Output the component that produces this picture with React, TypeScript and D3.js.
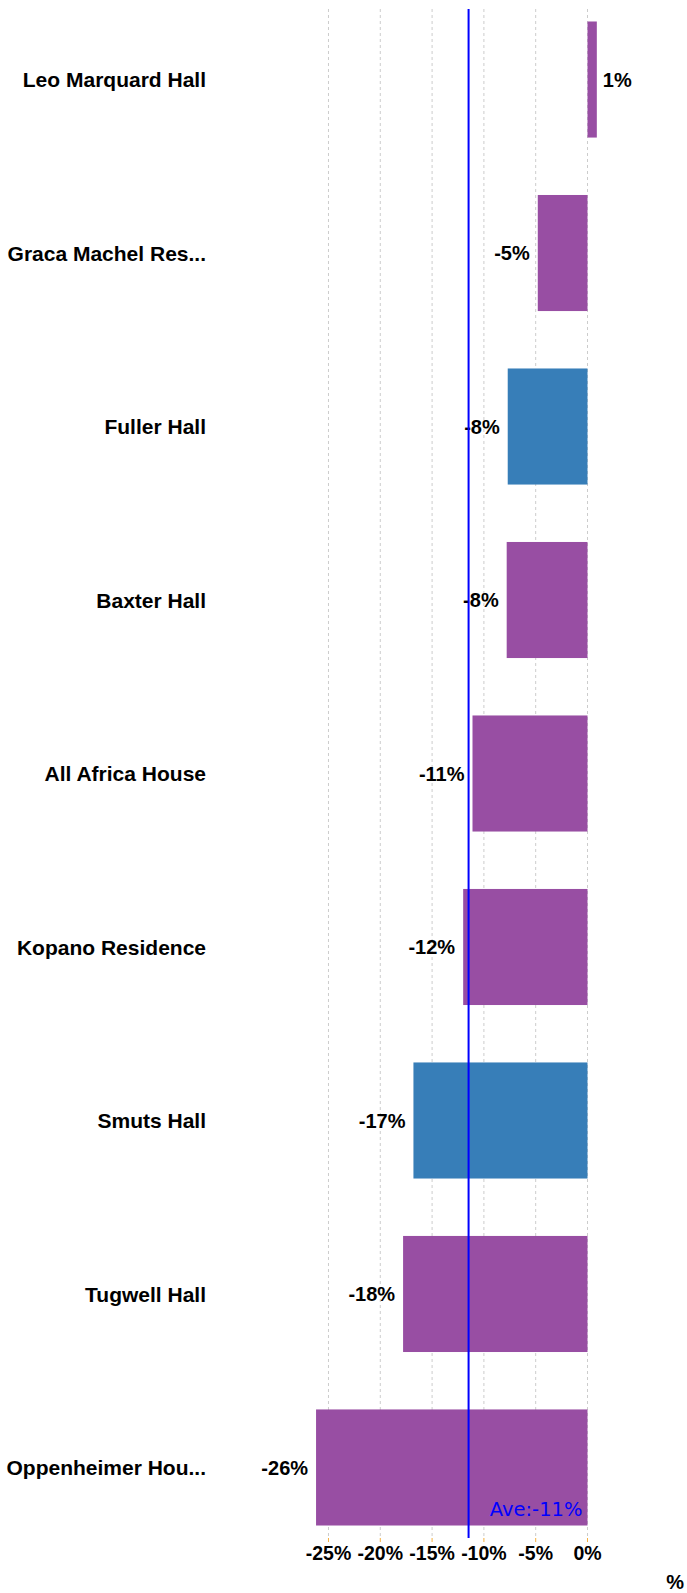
import React, { useEffect, useRef } from 'react';
import * as d3 from 'd3';

// Values (percent)
const halls = [
  'Leo Marquard Hall',
  'Graca Machel Res...',
  'Fuller Hall',
  'Baxter Hall',
  'All Africa House',
  'Kopano Residence',
  'Smuts Hall',
  'Tugwell Hall',
  'Oppenheimer Hou...'
];
const changes = [0.9, -4.8, -7.7, -7.8, -11.1, -12.0, -16.8, -17.8, -26.2];
const groups = ['b', 'b', 'a', 'b', 'b', 'b', 'a', 'b', 'b'];
const ticks = [-25, -20, -15, -10, -5, 0];

const WIDTH = 687;
const HEIGHT = 1593;

const App = () => {
  const ref = useRef<SVGSVGElement | null>(null);

  useEffect(() => {
    const svg = d3.select(ref.current);
    svg.selectAll('*').remove();

    const data = halls.map((name, i) => ({ name, value: changes[i], group: groups[i] }));
    const font = '"Liberation Sans", Arial, sans-serif';

    const x = d3.scaleLinear().domain([-28, 1.5]).range([297.4, 603.04]);
    const y = d3.scaleBand<string>()
      .domain(halls)
      .range([9, 1538])
      .paddingInner(0.331)
      .paddingOuter(0.072);

    const color = d3.scaleOrdinal<string, string>()
      .domain(['a', 'b'])
      .range(['#377eb8', '#984ea3']);

    const gridTop = 9;
    const gridBottom = 1538;

    // Grid lines
    svg.append('g')
      .selectAll('line')
      .data(ticks)
      .enter()
      .append('line')
      .attr('x1', d => x(d))
      .attr('x2', d => x(d))
      .attr('y1', gridTop)
      .attr('y2', gridBottom)
      .attr('stroke', '#cccccc')
      .attr('stroke-width', 1)
      .attr('stroke-dasharray', '3,3');

    // Small tick marks
    svg.append('g')
      .selectAll('line')
      .data(ticks)
      .enter()
      .append('line')
      .attr('x1', d => x(d))
      .attr('x2', d => x(d))
      .attr('y1', gridBottom)
      .attr('y2', gridBottom + 4)
      .attr('stroke', '#f5b041')
      .attr('stroke-width', 1);

    // Bars
    svg.append('g')
      .selectAll('rect')
      .data(data)
      .enter()
      .append('rect')
      .attr('x', d => x(Math.min(0, d.value)))
      .attr('width', d => Math.abs(x(d.value) - x(0)))
      .attr('y', d => y(d.name) as number)
      .attr('height', y.bandwidth())
      .attr('fill', d => color(d.group));

    // Value labels
    svg.append('g')
      .selectAll('text')
      .data(data)
      .enter()
      .append('text')
      .attr('x', d => (d.value < 0 ? x(d.value) - 8 : x(d.value) + 6))
      .attr('y', d => (y(d.name) as number) + y.bandwidth() / 2)
      .attr('dy', '0.36em')
      .attr('text-anchor', d => (d.value < 0 ? 'end' : 'start'))
      .attr('font-family', font)
      .attr('font-weight', 'bold')
      .attr('font-size', 20)
      .attr('fill', '#000')
      .text(d => `${Math.round(d.value)}%`);

    // Category labels
    svg.append('g')
      .selectAll('text')
      .data(data)
      .enter()
      .append('text')
      .attr('x', 206)
      .attr('y', d => (y(d.name) as number) + y.bandwidth() / 2)
      .attr('dy', '0.36em')
      .attr('text-anchor', 'end')
      .attr('font-family', font)
      .attr('font-weight', 'bold')
      .attr('font-size', 21)
      .attr('fill', '#000')
      .text(d => d.name);

    // Tick labels
    svg.append('g')
      .selectAll('text')
      .data(ticks)
      .enter()
      .append('text')
      .attr('x', d => x(d))
      .attr('y', 1560)
      .attr('text-anchor', 'middle')
      .attr('font-family', font)
      .attr('font-weight', 'bold')
      .attr('font-size', 19.5)
      .attr('fill', '#000')
      .text(d => `${d}%`);

    // Axis title
    svg.append('text')
      .attr('x', 684)
      .attr('y', 1589)
      .attr('text-anchor', 'end')
      .attr('font-family', font)
      .attr('font-weight', 'bold')
      .attr('font-size', 20)
      .attr('fill', '#000')
      .text('%');

    // Average line
    const avg = d3.mean(changes) as number;
    svg.append('line')
      .attr('x1', x(avg))
      .attr('x2', x(avg))
      .attr('y1', gridTop)
      .attr('y2', gridBottom)
      .attr('stroke', '#0000ff')
      .attr('stroke-width', 2);

    svg.append('text')
      .attr('x', x(0) - 5)
      .attr('y', 1516)
      .attr('text-anchor', 'end')
      .attr('font-family', '"DejaVu Sans", Verdana, sans-serif')
      .attr('font-size', 19.5)
      .attr('fill', '#0000ff')
      .text(`Ave:${Math.trunc(avg)}%`);
  }, []);

  return (
    <div style={{ position: 'absolute', left: 0, top: 0 }}>
      <svg ref={ref} width={WIDTH} height={HEIGHT} />
    </div>
  );
};

export default App;
